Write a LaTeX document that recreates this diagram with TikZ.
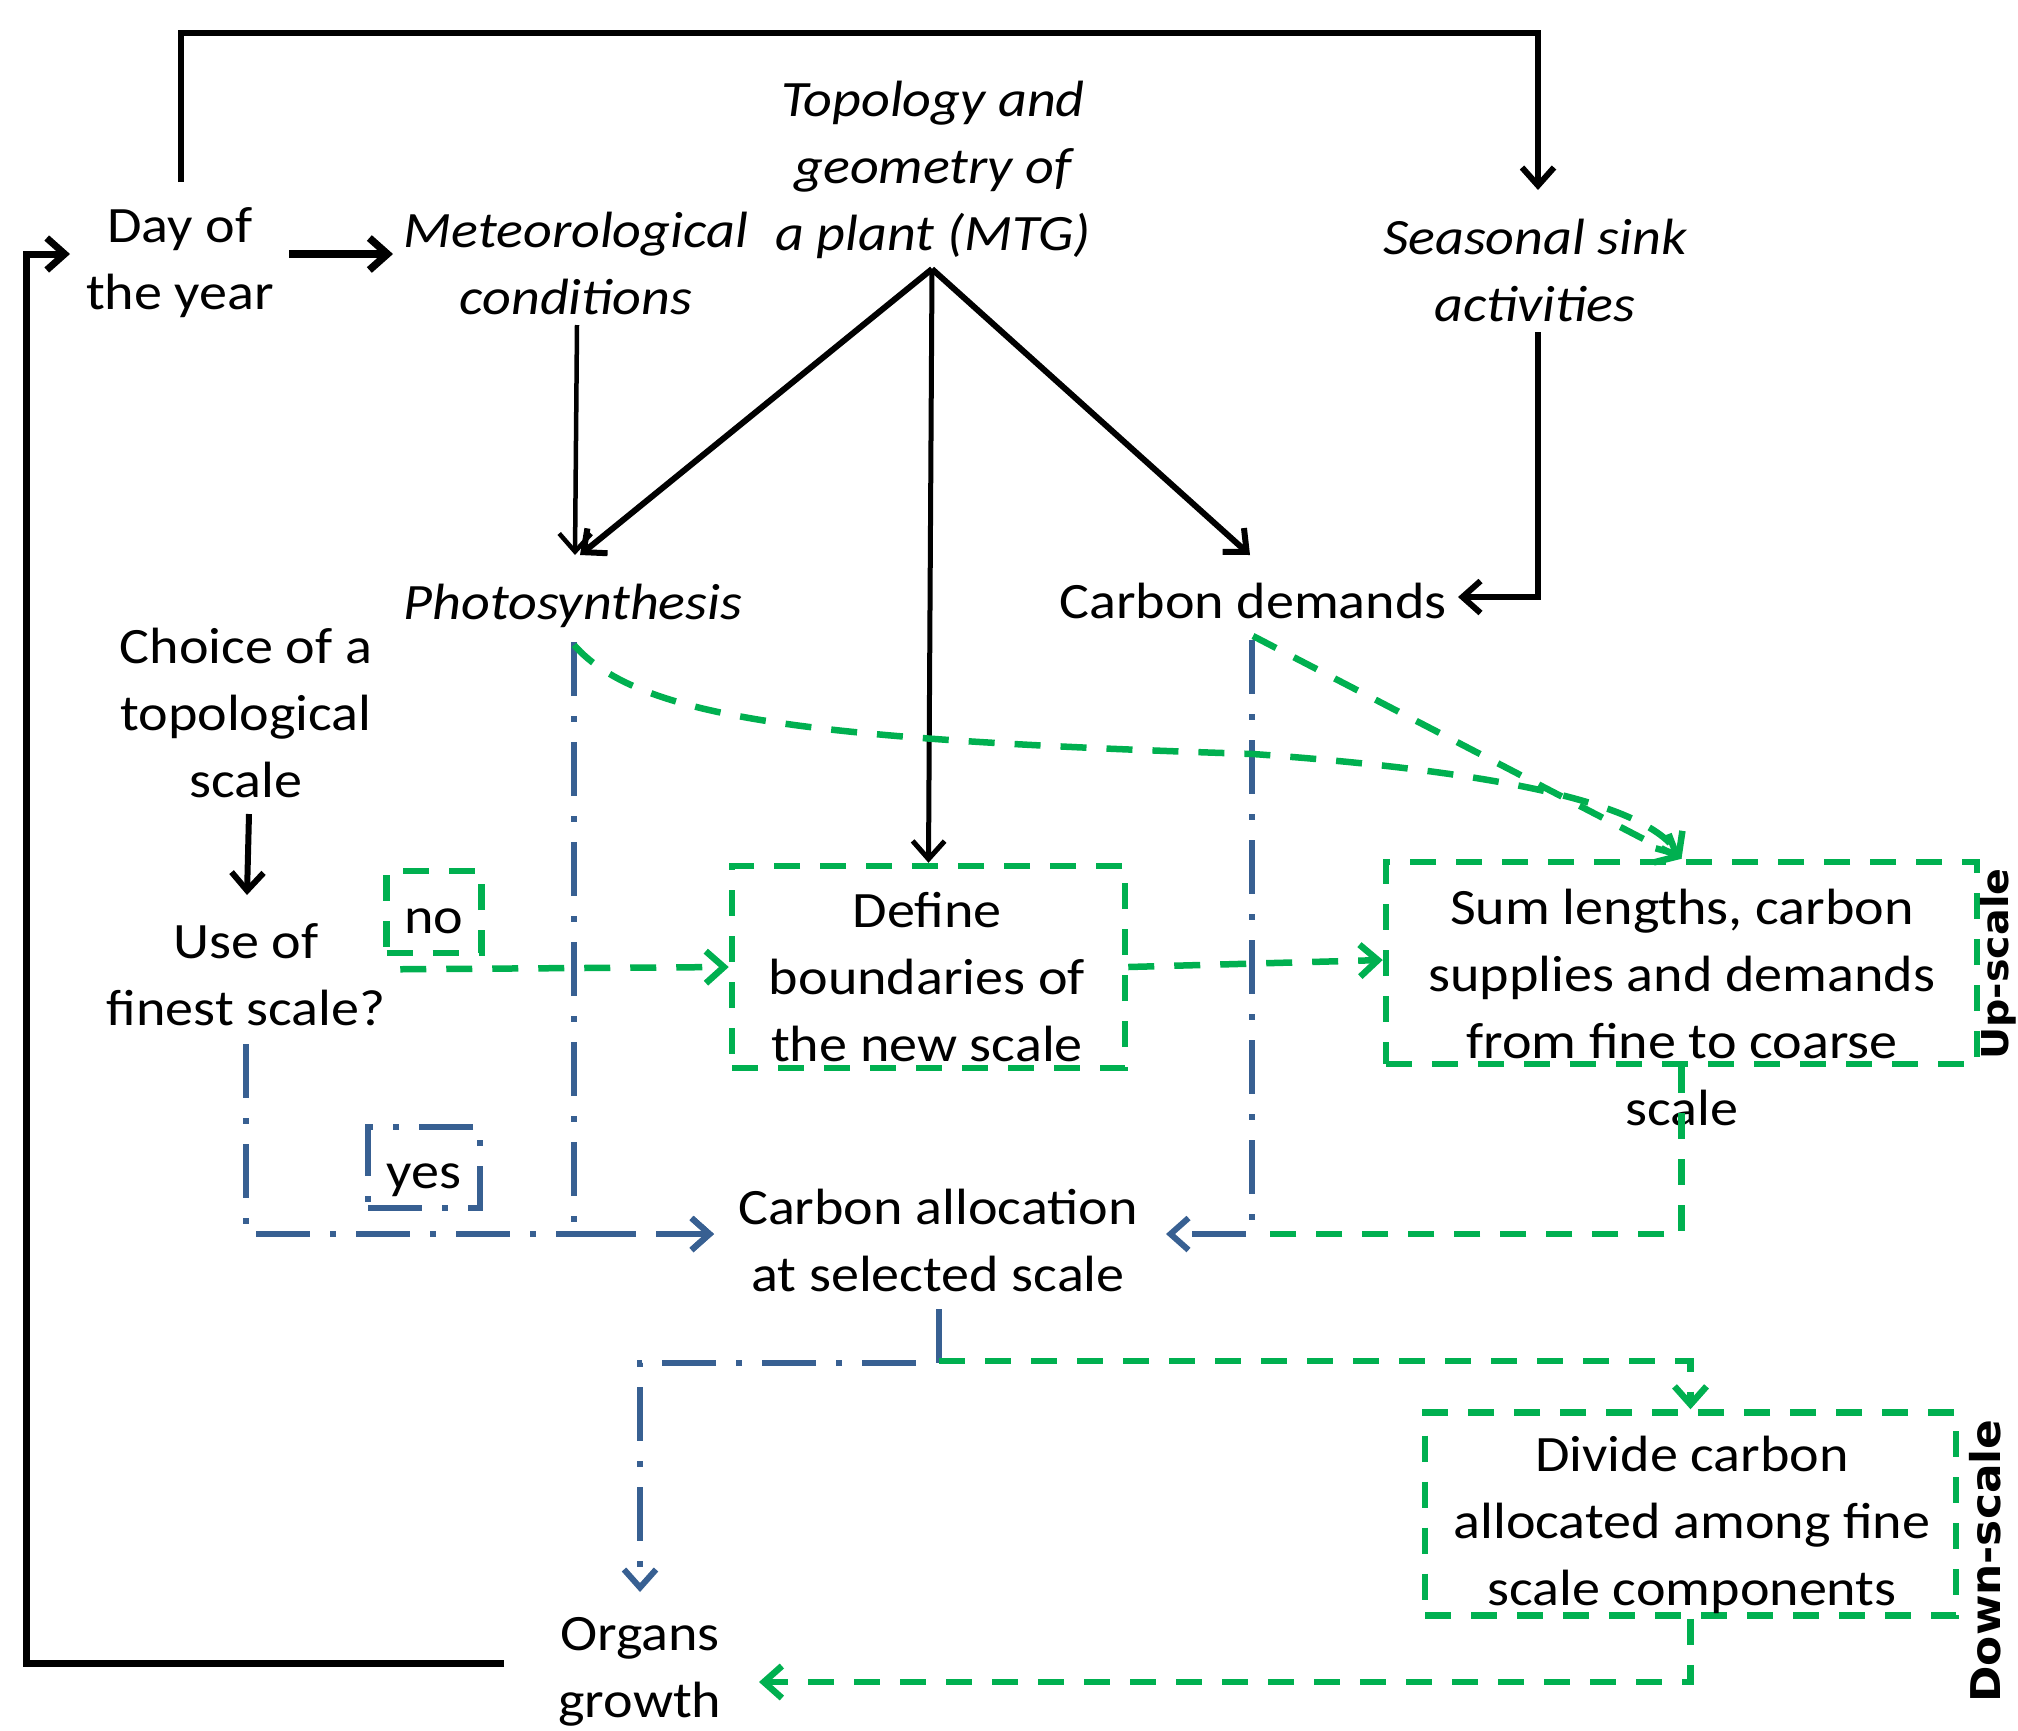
\documentclass[tikz,border=0pt]{standalone}
\usepackage{fontspec}
\setmainfont{Carlito}[FakeStretch=1.1]
\newfontfamily\labfont{DejaVu Sans}[FakeStretch=1.07]
\usetikzlibrary{arrows.meta,calc}
\definecolor{pgreen}{RGB}{0,176,80}
\definecolor{pblue}{RGB}{56,96,146}
\begin{document}
\begin{tikzpicture}[x=1pt,y=-1pt,
  txt/.style={font=\fontsize{51}{67}\selectfont, align=center, inner sep=0pt},
  ittxt/.style={font=\fontsize{51}{67}\selectfont\itshape, align=center, inner sep=0pt},
  lab/.style={font=\labfont\bfseries, inner sep=0pt, rotate=90},
  tip/.style={-{Straight Barb[length=18pt,width=32pt]}},
  bk/.style={draw=black, line width=6pt},
  gr/.style={draw=pgreen, line width=6.5pt, dash pattern=on 26pt off 20pt},
  bl/.style={draw=pblue, line width=6pt, dash pattern=on 54pt off 20pt on 6pt off 20pt},
  gbox/.style={rectangle, draw=pgreen, line width=6.5pt, dash pattern=on 26pt off 20pt, inner sep=0pt},
  bbox/.style={rectangle, draw=pblue, line width=6pt, dash pattern=on 54pt off 20pt on 6pt off 20pt, inner sep=0pt},
]
\useasboundingbox (0,0) rectangle (2018,1730);

% text nodes
\node[txt] (day) at (180,263) {Day of\\the year};
\node[ittxt] (met) at (576,263) {Meteorological\\conditions};
\node[ittxt] (mtg) at (933,170) {Topology and\\geometry of\\a plant (MTG)};
\node[ittxt] (sea) at (1535,270) {Seasonal sink\\activities};
\node[ittxt] (photo) at (573,606) {Photosynthesis};
\node[txt] (cdem) at (1253,601) {Carbon demands};
\node[txt] (choice) at (246,713) {Choice of a\\topological\\scale};
\node[txt] (useof) at (246,975) {Use of\\finest scale?};
\node[gbox, txt, minimum width=95, minimum height=82, text height=43, text depth=0] (no) at (434,912) {no};
\node[bbox, txt, minimum width=112, minimum height=81, text height=51, text depth=10] (yes) at (424,1167.5) {yes};
\node[gbox, minimum width=393, minimum height=202] (defbox) at (928.5,967) {};
\node[txt] (define) at (927,977) {Define\\boundaries of\\the new scale};
\node[gbox, minimum width=591, minimum height=202] (sumbox) at (1681.5,963) {};
\node[txt] (sum) at (1682,1007) {Sum lengths, carbon\\supplies and demands\\from fine to coarse\\scale};
\node[lab, font=\labfont\bfseries\fontsize{37}{40}\selectfont] (up) at (1998,964) {Up-scale};
\node[txt] (alloc) at (938,1240) {Carbon allocation\\at selected scale};
\node[gbox, minimum width=531, minimum height=203] (divbox) at (1690.5,1514) {};
\node[txt] (divide) at (1692,1525) {Divide carbon\\allocated among fine\\scale components};
\node[lab, font=\labfont\bfseries\fontsize{41}{44}\selectfont] (down) at (1985,1561) {Down-scale};
\node[txt] (organs) at (640,1672) {Organs\\growth};

% black connectors
\draw[bk,tip] ($(day)+(1,-81)$) -- ++(0,-149) -| ($(sea)+(3,-80)$);
\draw[bk,tip,line width=7.5pt] ($(day)+(109,-9)$) -- ($(met)+(-183,-9)$);
\draw[bk,tip,line width=7pt] ($(organs)+(-136,-9)$) -| ($(day)+(-154,-9)$) -- ($(day)+(-110,-9)$);
\draw[bk,tip,line width=4.5pt] ($(met)+(1,62)$) -- ($(photo)+(2,-51)$);
\draw[bk,tip] ($(mtg)+(-1,99)$) -- ($(photo)+(7,-51)$);
\draw[bk,tip,line width=5pt] ($(mtg)+(-1,99)$) -- (defbox.north);
\draw[bk,tip] ($(mtg)+(-1,99)$) -- ($(cdem)+(-3,-46)$);
\draw[bk,tip] ($(sea)+(3,62)$) |- ($(cdem)+(205,-4)$);
\draw[bk,tip] ($(choice)+(3,101)$) -- ($(useof)+(1,-80)$);

% blue dash-dot connectors
\draw[bl,tip] ($(useof)+(0,69)$) |- ($(alloc)+(-224,-6)$);
\draw[bl,tip] ($(photo)+(1,36)$) |- ($(alloc)+(-224,-6)$);
\draw[bl,tip] ($(cdem)+(-1,39)$) |- ($(alloc)+(228,-6)$);
\draw[draw=pblue,line width=6pt] ($(alloc)+(1,69)$) -- ($(alloc)+(1,123)$);
\draw[bl,tip] ($(alloc)+(-22,123)$) -| ($(organs)+(0,-80)$);

% green dashed connectors
\draw[gr,tip] ($(photo)+(1,39)$) .. controls (640,720) and (820,740) .. (1253,754)
   .. controls (1450,768) and (1640,795) .. (sumbox.north);
\draw[gr,tip] ($(cdem)+(0,35)$) -- (sumbox.north);
\draw[gr,tip] ($(no.south west)+(17,13)$) -- (defbox.west);
\draw[gr,tip] (defbox.east) -- ($(sumbox.west)+(0,-3)$);
\draw[gr] (sumbox.south) |- ($(cdem)+(-1,633)$);
\draw[gr,tip] ($(alloc)+(1,121)$) -| (divbox.north);
\draw[gr,tip] (divbox.south) |- ($(organs)+(119,10)$);
\end{tikzpicture}
\end{document}
